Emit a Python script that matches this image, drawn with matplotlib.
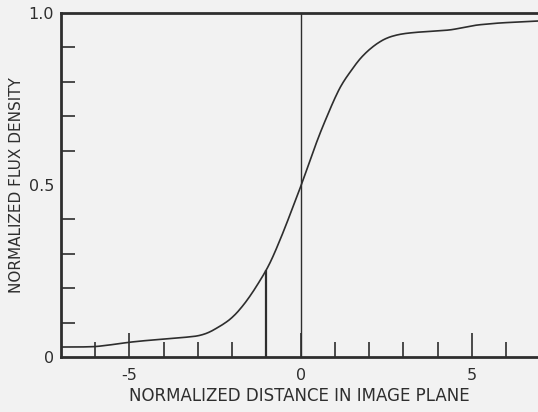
import numpy as np
import matplotlib
matplotlib.use("Agg")
import matplotlib.pyplot as plt

# Curva de densidad de flujo normalizada
distancia = [-7.0, -6.5, -6.0, -5.5, -5.0, -4.5, -4.0, -3.5, -3.0, -2.7, -2.45, -2.2, -1.98,
             -1.75, -1.49, -1.25, -1.0, -0.85, -0.52, -0.25, 0.0, 0.25, 0.5, 0.76, 1.05,
             1.25, 1.43, 1.63, 1.85, 2.1, 2.3, 2.5, 2.75, 3.0, 3.38, 4.0, 4.4, 4.7, 5.13, 5.8, 6.95]
flujo = [0.029, 0.029, 0.030, 0.036, 0.043, 0.048, 0.052, 0.056, 0.061, 0.070, 0.084, 0.099, 0.116,
         0.141, 0.175, 0.212, 0.253, 0.282, 0.36, 0.43, 0.495, 0.565, 0.635, 0.698, 0.765,
         0.802, 0.826, 0.855, 0.880, 0.902, 0.916, 0.927, 0.935, 0.940, 0.944, 0.948, 0.951, 0.957, 0.965, 0.971, 0.977]

x_ticks = [-6, -5, -4, -3, -2, 1, 2, 3, 4, 5, 6]
x_labels = {-5: "-5", 0: "0", 5: "5"}
y_labels = {0.0: "0", 0.5: "0.5", 1.0: "1.0"}
y_menores = [0.1, 0.2, 0.3, 0.4, 0.6, 0.7, 0.8, 0.9]
marca_x = -1.0

color = "#2e2e2e"
fondo = "#f2f2f2"

# suavizado simple de la curva leída (interpolación fina + media móvil)
xs = np.linspace(distancia[0], distancia[-1], 700)
ys = np.interp(xs, distancia, flujo)
k = 15
ys_suave = np.convolve(np.pad(ys, k // 2, mode="edge"), np.ones(k) / k, mode="valid")

fig = plt.figure(figsize=(5.38, 4.12), dpi=100, facecolor=fondo)
ax = fig.add_axes([61 / 538, 55 / 412, 477 / 538, 344 / 412], facecolor=fondo)

ax.plot(xs, ys_suave, color=color, lw=1.2)
ax.axvline(0, color=color, lw=1.0)
ax.vlines(marca_x, 0, np.interp(marca_x, distancia, flujo), color=color, lw=1.6)

ax.set_xlim(-7, 6.93)
ax.set_ylim(0, 1.0)

for s in ["left", "bottom", "top"]:
    ax.spines[s].set_linewidth(2.0)
    ax.spines[s].set_color(color)
ax.spines["right"].set_visible(False)

# marcas en el eje x: cortas para enteros, largas para -5 y 5
ax.set_xticks([t for t in x_ticks if t not in x_labels])
ax.set_xticks(list(x_labels.keys()), minor=True)
ax.tick_params(axis="x", which="major", direction="in", length=11, width=1.2, color=color,
               labelbottom=False)
ax.tick_params(axis="x", which="minor", direction="in", length=17, width=1.2, color=color,
               labelsize=11.5, labelcolor=color, pad=8)
ax.set_xticklabels(list(x_labels.values()), minor=True)

ax.set_yticks(y_menores)
ax.tick_params(axis="y", which="major", direction="in", length=10, width=1.2, color=color,
               labelleft=False)
ax.set_yticks(list(y_labels.keys()), minor=True)
ax.set_yticklabels(list(y_labels.values()), minor=True)
ax.tick_params(axis="y", which="minor", length=0, labelsize=11.5, labelcolor=color, pad=5)

ax.set_xlabel("NORMALIZED DISTANCE IN IMAGE PLANE", fontsize=12, color=color, labelpad=3)
ax.set_ylabel("NORMALIZED FLUX DENSITY", fontsize=11, color=color)
ax.yaxis.set_label_coords(-0.078, 0.5)

fig.savefig("out.png", dpi=100, facecolor=fondo)
